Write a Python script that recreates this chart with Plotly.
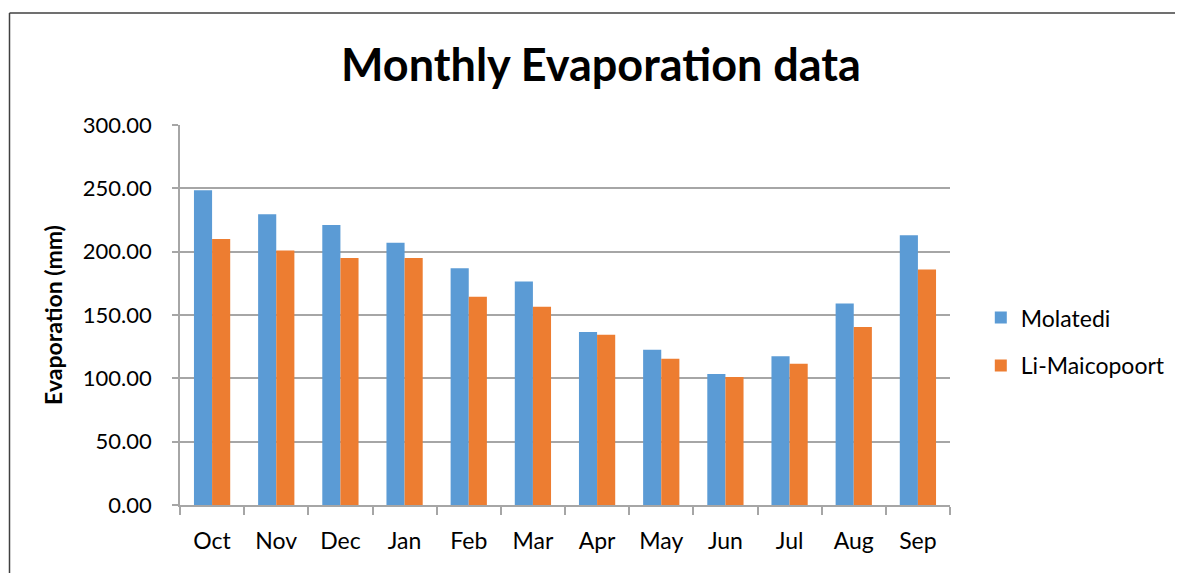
import plotly.graph_objects as go

months = ["Oct", "Nov", "Dec", "Jan", "Feb", "Mar", "Apr", "May", "Jun", "Jul", "Aug", "Sep"]
molatedi = [248.5, 229.5, 221.0, 207.0, 187.0, 176.5, 136.5, 122.5, 103.5, 117.5, 159.0, 213.0]
li_maicopoort = [210.0, 201.0, 195.0, 195.0, 164.5, 156.5, 134.5, 115.5, 101.0, 111.5, 140.5, 186.0]
y_ticks = [0, 50, 100, 150, 200, 250, 300]
y_labels = ["0.00", "50.00", "100.00", "150.00", "200.00", "250.00", "300.00"]

FONT = "Lato, 'Open Sans', 'Liberation Sans', sans-serif"
OFF = 8  # page body margin

fig = go.Figure()
fig.add_trace(go.Bar(x=months, y=molatedi, name="Molatedi", legendgroup="g1",
                     marker=dict(color="#5b9bd5", line=dict(width=0))))
fig.add_trace(go.Bar(x=months, y=li_maicopoort, name="Li-Maicopoort", legendgroup="g2",
                     marker=dict(color="#ed7d31", line=dict(width=0))))

W, H = 1183 - OFF, 581 - 2 * OFF
fig.update_layout(
    width=W, height=H,
    margin=dict(l=180 - OFF, r=W - (950 - OFF), t=125 - OFF, b=H - (505 - OFF)),
    paper_bgcolor="white", plot_bgcolor="white",
    barmode="group", bargap=0.435, bargroupgap=0,
    font=dict(family=FONT, color="#000000", size=22),
    title=dict(text="<b>Monthly Evaporation data</b>", x=(601 - OFF) / W, xanchor="center",
               y=1 - (65 - OFF) / H, yanchor="middle", font=dict(size=45, family=FONT)),
    legend=dict(x=1.040, xanchor="left", y=0.43, yanchor="middle",
                font=dict(size=23), itemsizing="constant", tracegroupgap=15,
                bgcolor="rgba(0,0,0,0)"),
    showlegend=True,
)
fig.update_xaxes(
    type="category", showline=True, linecolor="#a6a6a6", linewidth=1.5,
    ticks="outside", tickson="boundaries", ticklen=8, tickcolor="#a6a6a6", tickwidth=1.5,
    tickfont=dict(size=23), showgrid=False, ticklabelstandoff=15,
)
fig.update_yaxes(
    range=[0, 300], tickvals=y_ticks, ticktext=y_labels,
    showline=True, linecolor="#a6a6a6", linewidth=1.5,
    ticks="outside", ticklen=6, tickcolor="#a6a6a6", tickwidth=1.5,
    showgrid=True, gridcolor="#a6a6a6", gridwidth=1.5,
    tickfont=dict(size=22), zeroline=False, ticklabelstandoff=16,
    title=dict(text="<b>Evaporation (mm)</b>", font=dict(size=23), standoff=14),
)
bx0 = (9.5 - 180) / 770
bx1 = (1220 - 180) / 770
by0 = (505 - 620) / 380
by1 = (505 - 13) / 380
for x0, y0, x1, y1 in [(bx0, by1, bx1, by1), (bx0, by0, bx0, by1)]:
    fig.add_shape(type="line", xref="paper", yref="paper", x0=x0, y0=y0, x1=x1, y1=y1,
                  line=dict(color="#404040", width=1.5), layer="below")

fig.write_html("out.html")
